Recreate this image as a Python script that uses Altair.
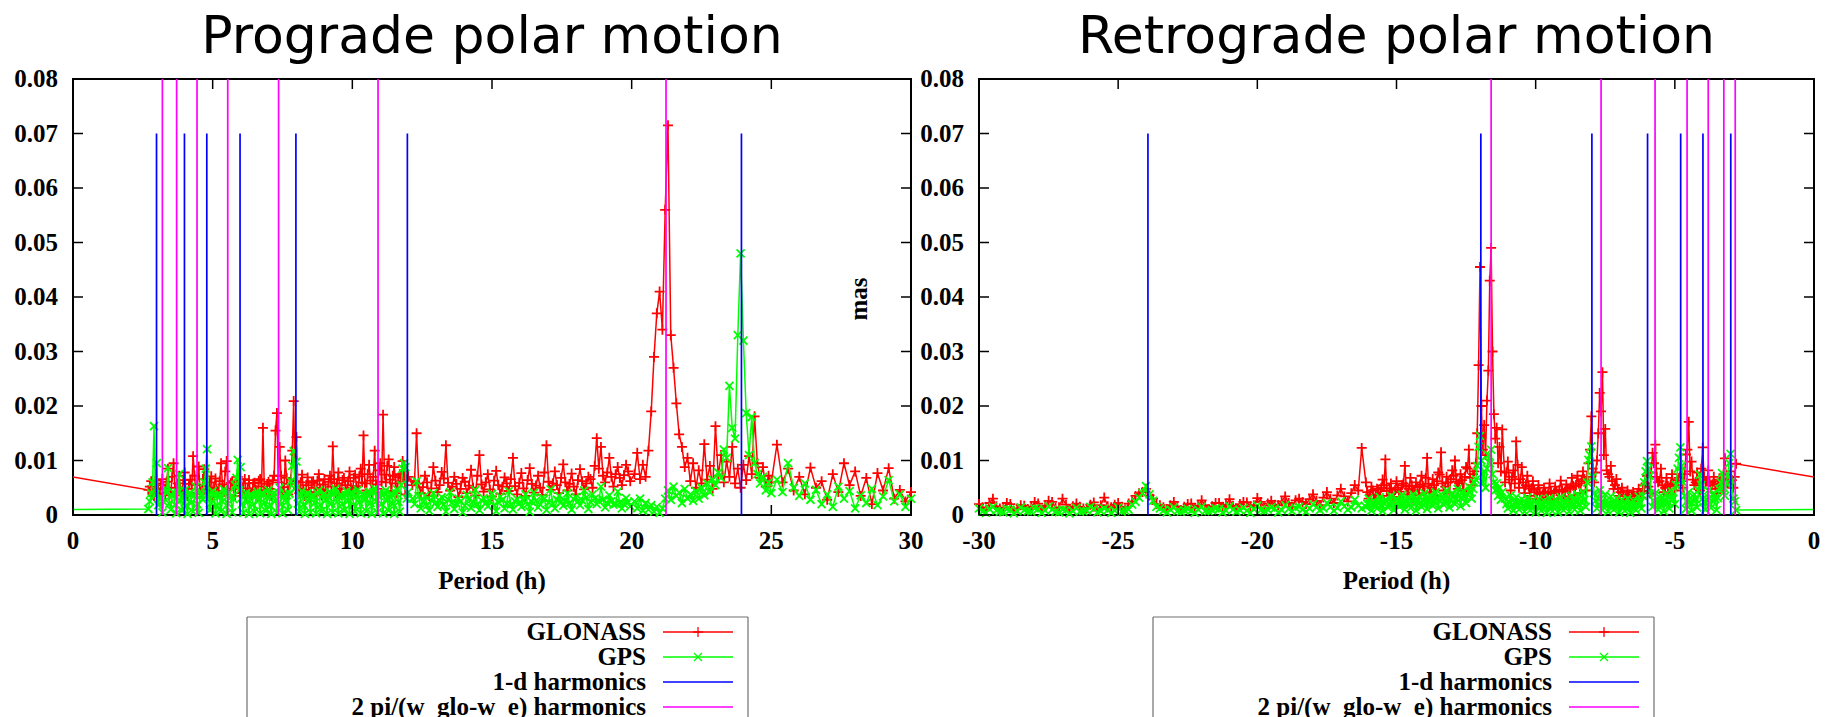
import altair as alt
import pandas as pd

# ---------------------------------------------------------------------------
# Amplitude spectra of polar motion (mas) versus period (h)
# ---------------------------------------------------------------------------

# prograde band (positive periods)
PRO_PERIOD = [
    2.7, 2.8, 2.9, 3.0, 3.1, 3.2, 3.3, 3.4, 3.5, 3.6,
    3.7, 3.8, 3.9, 4.0, 4.1, 4.2, 4.3, 4.4, 4.5, 4.6,
    4.7, 4.8, 4.9, 5.0, 5.1, 5.2, 5.3, 5.4, 5.5, 5.6,
    5.7, 5.8, 5.9, 6.0, 6.1, 6.2, 6.3, 6.4, 6.5, 6.6,
    6.7, 6.8, 6.9, 7.0, 7.1, 7.2, 7.3, 7.4, 7.5, 7.6,
    7.7, 7.8, 7.9, 8.0, 8.1, 8.2, 8.3, 8.4, 8.5, 8.6,
    8.7, 8.8, 8.9, 9.0, 9.1, 9.2, 9.3, 9.4, 9.5, 9.6,
    9.7, 9.8, 9.9, 10.0, 10.1, 10.2, 10.3, 10.4, 10.5, 10.6,
    10.7, 10.8, 10.9, 11.0, 11.1, 11.2, 11.3, 11.4, 11.5, 11.6,
    11.7, 11.8, 11.9, 12.0,
    12.15, 12.3, 12.45, 12.6, 12.75, 12.9, 13.05, 13.2, 13.35, 13.5,
    13.65, 13.8, 13.95, 14.1, 14.25, 14.4, 14.55, 14.7, 14.85, 15.0,
    15.15, 15.3, 15.45, 15.6, 15.75, 15.9, 16.05, 16.2, 16.35, 16.5,
    16.65, 16.8, 16.95, 17.1, 17.25, 17.4, 17.55, 17.7, 17.85, 18.0,
    18.15, 18.3, 18.45, 18.6, 18.75, 18.9, 19.05, 19.2, 19.35, 19.5,
    19.65, 19.8, 19.95,
    20.1, 20.2, 20.3, 20.4, 20.5, 20.6, 20.7, 20.8, 20.9, 21.0,
    21.1, 21.2, 21.3, 21.4, 21.5, 21.6, 21.7, 21.8, 21.9, 22.0,
    22.1, 22.2, 22.3, 22.4, 22.5, 22.6, 22.7, 22.8, 22.9, 23.0,
    23.1, 23.2, 23.3, 23.4, 23.5, 23.6, 23.7, 23.8, 23.9, 24.0,
    24.1, 24.2, 24.3, 24.4, 24.5, 24.6, 24.7, 24.8, 24.9, 25.0,
    25.2, 25.4, 25.6, 25.8, 26.0, 26.2, 26.4, 26.6, 26.8, 27.0,
    27.2, 27.4, 27.6, 27.8, 28.0, 28.2, 28.4, 28.6, 28.8, 29.0,
    29.2, 29.4, 29.6, 29.8, 30.0, 30.2,
]
PRO_GLONASS = [
    0.0046, 0.0062, 0.0035, 0.0058, 0.0040, 0.0066, 0.0038, 0.0085, 0.0042, 0.0095,
    0.0036, 0.0072, 0.0041, 0.0078, 0.0035, 0.0065, 0.0108, 0.0040, 0.0089, 0.0038,
    0.0084, 0.0045, 0.0060, 0.0033, 0.0067, 0.0040, 0.0095, 0.0042, 0.0099, 0.0037,
    0.0062, 0.0035, 0.0070, 0.0040, 0.0058, 0.0032, 0.0064, 0.0036, 0.0059, 0.0034,
    0.0066, 0.0160, 0.0038, 0.0061, 0.0035, 0.0072, 0.0187, 0.0125, 0.0042, 0.0100,
    0.0038, 0.0065, 0.0209, 0.0143, 0.0040, 0.0074, 0.0035, 0.0069, 0.0033, 0.0062,
    0.0038, 0.0075, 0.0036, 0.0066, 0.0034, 0.0072, 0.0126, 0.0040, 0.0078, 0.0037,
    0.0068, 0.0042, 0.0080, 0.0036, 0.0074, 0.0040, 0.0085, 0.0146, 0.0045, 0.0092,
    0.0041, 0.0118, 0.0048, 0.0095, 0.0184, 0.0060, 0.0102, 0.0044, 0.0088, 0.0040,
    0.0075, 0.0099, 0.0038, 0.0070,
    0.0055, 0.0150, 0.0040, 0.0072, 0.0035, 0.0088, 0.0042, 0.0079, 0.0128, 0.0045,
    0.0070, 0.0033, 0.0068, 0.0040, 0.0083, 0.0036, 0.0110, 0.0043, 0.0075, 0.0034,
    0.0081, 0.0039, 0.0069, 0.0044, 0.0105, 0.0038, 0.0077, 0.0035, 0.0086, 0.0041,
    0.0072, 0.0037, 0.0128, 0.0046, 0.0080, 0.0040, 0.0093, 0.0045, 0.0076, 0.0038,
    0.0084, 0.0047, 0.0070, 0.0050, 0.0141, 0.0125, 0.0060, 0.0105, 0.0052, 0.0088,
    0.0055, 0.0092, 0.0062,
    0.0075, 0.0114, 0.0066, 0.0092, 0.0070, 0.0118, 0.0190, 0.0290, 0.0370, 0.0410,
    0.0340, 0.0560, 0.0715, 0.0330, 0.0270, 0.0205, 0.0148, 0.0125, 0.0088, 0.0105,
    0.0062, 0.0095, 0.0050, 0.0082, 0.0058, 0.0130, 0.0065, 0.0090, 0.0048, 0.0163,
    0.0072, 0.0110, 0.0060, 0.0098, 0.0070, 0.0125, 0.0058, 0.0085, 0.0050, 0.0092,
    0.0064, 0.0108, 0.0075, 0.0181, 0.0095, 0.0068, 0.0088, 0.0052, 0.0072, 0.0060,
    0.0129, 0.0060, 0.0085, 0.0045, 0.0070, 0.0038, 0.0087, 0.0050, 0.0062, 0.0028,
    0.0075, 0.0042, 0.0095, 0.0055, 0.0080, 0.0035, 0.0068, 0.0020, 0.0077, 0.0045,
    0.0086, 0.0030, 0.0046, 0.0025, 0.0042, 0.0040,
]
PRO_GPS = [
    0.0011, 0.0040, 0.0163, 0.0095, 0.0030, 0.0005, 0.0048, 0.0086, 0.0010, 0.0042,
    0.0003, 0.0075, 0.0008, 0.0045, 0.0002, 0.0040, 0.0006, 0.0052, 0.0004, 0.0038,
    0.0060, 0.0121, 0.0009, 0.0044, 0.0003, 0.0039, 0.0007, 0.0047, 0.0002, 0.0041,
    0.0005, 0.0055, 0.0101, 0.0088, 0.0004, 0.0040, 0.0002, 0.0037, 0.0006, 0.0043,
    0.0003, 0.0039, 0.0008, 0.0046, 0.0002, 0.0041, 0.0005, 0.0050, 0.0003, 0.0038,
    0.0009, 0.0062, 0.0117, 0.0098, 0.0006, 0.0044, 0.0002, 0.0040, 0.0005, 0.0036,
    0.0003, 0.0045, 0.0007, 0.0039, 0.0002, 0.0042, 0.0005, 0.0048, 0.0003, 0.0037,
    0.0008, 0.0044, 0.0002, 0.0040, 0.0006, 0.0046, 0.0003, 0.0038, 0.0007, 0.0043,
    0.0002, 0.0049, 0.0005, 0.0041, 0.0003, 0.0045, 0.0008, 0.0039, 0.0002, 0.0047,
    0.0006, 0.0085, 0.0088, 0.0042,
    0.0030, 0.0062, 0.0012, 0.0035, 0.0008, 0.0040, 0.0015, 0.0033, 0.0006, 0.0042,
    0.0011, 0.0030, 0.0005, 0.0037, 0.0013, 0.0046, 0.0009, 0.0031, 0.0016, 0.0039,
    0.0007, 0.0034, 0.0012, 0.0044, 0.0010, 0.0029, 0.0015, 0.0038, 0.0006, 0.0041,
    0.0014, 0.0032, 0.0009, 0.0047, 0.0012, 0.0035, 0.0017, 0.0040, 0.0010, 0.0033,
    0.0018, 0.0045, 0.0011, 0.0038, 0.0020, 0.0052, 0.0014, 0.0036, 0.0019, 0.0043,
    0.0012, 0.0031, 0.0016,
    0.0025, 0.0012, 0.0030, 0.0008, 0.0022, 0.0010, 0.0018, 0.0006, 0.0015, 0.0004,
    0.0012, 0.0030, 0.0045, 0.0028, 0.0052, 0.0035, 0.0041, 0.0022, 0.0048, 0.0030,
    0.0038, 0.0026, 0.0044, 0.0030, 0.0050, 0.0036, 0.0058, 0.0042, 0.0065, 0.0055,
    0.0078, 0.0068, 0.0120, 0.0105, 0.0237, 0.0160, 0.0140, 0.0330, 0.0480, 0.0320,
    0.0187, 0.0110, 0.0180, 0.0095, 0.0075, 0.0058, 0.0070, 0.0045, 0.0060, 0.0040,
    0.0065, 0.0042, 0.0095, 0.0050, 0.0035, 0.0058, 0.0028, 0.0046, 0.0020, 0.0038,
    0.0015, 0.0052, 0.0030, 0.0044, 0.0012, 0.0036, 0.0022, 0.0048, 0.0018, 0.0034,
    0.0064, 0.0025, 0.0038, 0.0015, 0.0030, 0.0022,
]

# prograde, in-between frequency bins of the densely sampled short periods
PRO_FINE_PERIOD = [
    2.75, 2.85, 2.95, 3.05, 3.15, 3.25, 3.35, 3.45, 3.55, 3.65,
    3.75, 3.85, 3.95, 4.05, 4.15, 4.25, 4.35, 4.45, 4.55, 4.65,
    4.75, 4.85, 4.95, 5.05, 5.15, 5.25, 5.35, 5.45, 5.55, 5.65,
    5.75, 5.85, 5.95, 6.05, 6.15, 6.25, 6.35, 6.45, 6.55, 6.65,
    6.75, 6.85, 6.95, 7.05, 7.15, 7.25, 7.35, 7.45, 7.55, 7.65,
    7.75, 7.85, 7.95, 8.05, 8.15, 8.25, 8.35, 8.45, 8.55, 8.65,
    8.75, 8.85, 8.95, 9.05, 9.15, 9.25, 9.35, 9.45, 9.55, 9.65,
    9.75, 9.85, 9.95, 10.05, 10.15, 10.25, 10.35, 10.45, 10.55, 10.65,
    10.75, 10.85, 10.95, 11.05, 11.15, 11.25, 11.35, 11.45, 11.55, 11.65,
    11.75, 11.85, 11.95,
    12.225, 12.375, 12.525, 12.675, 12.825, 12.975, 13.125, 13.275, 13.425, 13.575,
    13.725, 13.875, 14.025, 14.175, 14.325, 14.475, 14.625, 14.775, 14.925, 15.075,
    15.225, 15.375, 15.525, 15.675, 15.825, 15.975, 16.125, 16.275, 16.425, 16.575,
    16.725, 16.875, 17.025, 17.175, 17.325, 17.475, 17.625, 17.775, 17.925, 18.075,
    18.225, 18.375, 18.525, 18.675, 18.825, 18.975, 19.125, 19.275, 19.425, 19.575,
    19.725, 19.875,
]
PRO_FINE_GLONASS = [
    0.0052, 0.0041, 0.0063, 0.0047, 0.0055, 0.0049, 0.0061, 0.0036, 0.0070, 0.0050,
    0.0058, 0.0045, 0.0064, 0.0039, 0.0057, 0.0048, 0.0072, 0.0055, 0.0046, 0.0066,
    0.0053, 0.0040, 0.0071, 0.0050, 0.0044, 0.0062, 0.0056, 0.0080, 0.0047, 0.0059,
    0.0048, 0.0061, 0.0054, 0.0043, 0.0066, 0.0049, 0.0041, 0.0058, 0.0046, 0.0063,
    0.0052, 0.0045, 0.0057, 0.0048, 0.0064, 0.0155, 0.0060, 0.0072, 0.0051, 0.0068,
    0.0057, 0.0118, 0.0062, 0.0049, 0.0060, 0.0046, 0.0055, 0.0042, 0.0059, 0.0050,
    0.0063, 0.0047, 0.0056, 0.0044, 0.0061, 0.0052, 0.0066, 0.0058, 0.0048, 0.0064,
    0.0055, 0.0062, 0.0050, 0.0068, 0.0053, 0.0071, 0.0060, 0.0058, 0.0075, 0.0063,
    0.0070, 0.0056, 0.0082, 0.0061, 0.0074, 0.0090, 0.0065, 0.0072, 0.0058, 0.0069,
    0.0062, 0.0080, 0.0066,
    0.0062, 0.0058, 0.0051, 0.0060, 0.0049, 0.0063, 0.0055, 0.0067, 0.0059, 0.0052,
    0.0057, 0.0048, 0.0061, 0.0054, 0.0050, 0.0072, 0.0056, 0.0060, 0.0047, 0.0063,
    0.0055, 0.0052, 0.0058, 0.0066, 0.0053, 0.0059, 0.0049, 0.0064, 0.0057, 0.0054,
    0.0050, 0.0078, 0.0061, 0.0058, 0.0055, 0.0068, 0.0060, 0.0057, 0.0052, 0.0064,
    0.0062, 0.0058, 0.0066, 0.0090, 0.0085, 0.0072, 0.0078, 0.0070, 0.0075, 0.0068,
    0.0073, 0.0080,
]
PRO_FINE_GPS = [
    0.0025, 0.0060, 0.0038, 0.0018, 0.0033, 0.0024, 0.0040, 0.0021, 0.0035, 0.0019,
    0.0041, 0.0026, 0.0034, 0.0017, 0.0039, 0.0023, 0.0036, 0.0020, 0.0042, 0.0028,
    0.0085, 0.0032, 0.0022, 0.0037, 0.0018, 0.0034, 0.0025, 0.0040, 0.0021, 0.0033,
    0.0029, 0.0068, 0.0045, 0.0020, 0.0036, 0.0024, 0.0038, 0.0019, 0.0035, 0.0027,
    0.0040, 0.0022, 0.0034, 0.0018, 0.0037, 0.0026, 0.0041, 0.0020, 0.0033, 0.0024,
    0.0039, 0.0090, 0.0048, 0.0021, 0.0035, 0.0019, 0.0038, 0.0025, 0.0034, 0.0022,
    0.0040, 0.0018, 0.0036, 0.0027, 0.0033, 0.0021, 0.0039, 0.0024, 0.0035, 0.0020,
    0.0037, 0.0026, 0.0041, 0.0019, 0.0034, 0.0023, 0.0038, 0.0028, 0.0036, 0.0022,
    0.0042, 0.0025, 0.0035, 0.0020, 0.0039, 0.0027, 0.0033, 0.0021, 0.0040, 0.0024,
    0.0055, 0.0095, 0.0030,
    0.0020, 0.0035, 0.0024, 0.0018, 0.0027, 0.0022, 0.0026, 0.0019, 0.0028, 0.0023,
    0.0021, 0.0025, 0.0017, 0.0029, 0.0024, 0.0020, 0.0027, 0.0022, 0.0026, 0.0018,
    0.0023, 0.0028, 0.0021, 0.0019, 0.0025, 0.0022, 0.0027, 0.0020, 0.0024, 0.0026,
    0.0019, 0.0030, 0.0023, 0.0021, 0.0028, 0.0024, 0.0026, 0.0022, 0.0029, 0.0025,
    0.0027, 0.0032, 0.0024, 0.0030, 0.0026, 0.0028, 0.0022, 0.0025, 0.0021, 0.0023,
    0.0020, 0.0024,
]

# retrograde band (negative periods)
RETRO_PERIOD = [
    -30.25, -30.0, -29.75, -29.5, -29.25, -29.0, -28.75, -28.5, -28.25, -28.0,
    -27.75, -27.5, -27.25, -27.0, -26.75, -26.5, -26.25, -26.0, -25.75, -25.5,
    -25.25, -25.0, -24.75, -24.5, -24.25, -24.0, -23.75, -23.5, -23.25, -23.0,
    -22.75, -22.5, -22.25, -22.0, -21.75, -21.5, -21.25, -21.0, -20.75, -20.5,
    -20.25, -20.0, -19.75, -19.5, -19.25, -19.0, -18.75, -18.5, -18.25, -18.0,
    -17.75, -17.5, -17.25, -17.0, -16.75, -16.5, -16.25,
    -16.1, -16.0, -15.9, -15.8, -15.7, -15.6, -15.5, -15.4, -15.3, -15.2,
    -15.1, -15.0, -14.9, -14.8, -14.7, -14.6, -14.5, -14.4, -14.3, -14.2,
    -14.1, -14.0, -13.9, -13.8, -13.7, -13.6, -13.5, -13.4, -13.3, -13.2,
    -13.1, -13.0, -12.9, -12.8, -12.7, -12.6, -12.5, -12.4, -12.3, -12.2,
    -12.15, -12.1, -12.05, -12.0, -11.95, -11.9, -11.85, -11.8, -11.75, -11.7,
    -11.65, -11.6, -11.55, -11.5, -11.45, -11.4, -11.35, -11.3, -11.25, -11.2,
    -11.1, -11.0, -10.9, -10.8, -10.7, -10.6, -10.5, -10.4, -10.3, -10.2,
    -10.1, -10.0, -9.9, -9.8, -9.7, -9.6, -9.5, -9.4, -9.3, -9.2,
    -9.1, -9.0, -8.9, -8.8, -8.7, -8.6, -8.5, -8.4, -8.3, -8.2,
    -8.1, -8.0, -7.9, -7.8, -7.7, -7.6, -7.5, -7.4, -7.3, -7.2,
    -7.1, -7.0, -6.9, -6.8, -6.7, -6.6, -6.5, -6.4, -6.3, -6.2,
    -6.1, -6.0, -5.9, -5.8, -5.7, -5.6, -5.5, -5.4, -5.3, -5.2,
    -5.1, -5.0, -4.9, -4.8, -4.7, -4.6, -4.5, -4.4, -4.3, -4.2,
    -4.1, -4.0, -3.9, -3.8, -3.7, -3.6, -3.5, -3.4, -3.3, -3.2,
    -3.1, -3.0, -2.9, -2.8,
]
RETRO_GLONASS = [
    0.0015, 0.0020, 0.0010, 0.0030, 0.0012, 0.0022, 0.0008, 0.0018, 0.0011, 0.0024,
    0.0009, 0.0026, 0.0013, 0.0030, 0.0010, 0.0021, 0.0012, 0.0019, 0.0008, 0.0032,
    0.0014, 0.0022, 0.0010, 0.0025, 0.0040, 0.0048, 0.0030, 0.0018, 0.0011, 0.0024,
    0.0009, 0.0020, 0.0013, 0.0027, 0.0010, 0.0022, 0.0015, 0.0029, 0.0011, 0.0024,
    0.0016, 0.0031, 0.0013, 0.0026, 0.0018, 0.0034, 0.0015, 0.0030, 0.0020, 0.0038,
    0.0018, 0.0042, 0.0022, 0.0048, 0.0025, 0.0055, 0.0123,
    0.0060, 0.0030, 0.0052, 0.0025, 0.0048, 0.0032, 0.0065, 0.0102, 0.0035, 0.0058,
    0.0028, 0.0062, 0.0033, 0.0055, 0.0090, 0.0038, 0.0068, 0.0030, 0.0060, 0.0036,
    0.0072, 0.0040, 0.0105, 0.0042, 0.0066, 0.0035, 0.0078, 0.0115, 0.0045, 0.0070,
    0.0040, 0.0082, 0.0100, 0.0048, 0.0075, 0.0044, 0.0088, 0.0120, 0.0055, 0.0080,
    0.0095, 0.0150, 0.0275, 0.0455, 0.0200, 0.0120, 0.0165, 0.0110, 0.0210, 0.0265,
    0.0430, 0.0490, 0.0300, 0.0185, 0.0140, 0.0160, 0.0095, 0.0125, 0.0080, 0.0157,
    0.0060, 0.0098, 0.0045, 0.0082, 0.0135, 0.0050, 0.0088, 0.0040, 0.0072, 0.0035,
    0.0062, 0.0030, 0.0055, 0.0028, 0.0050, 0.0032, 0.0058, 0.0027, 0.0052, 0.0030,
    0.0063, 0.0034, 0.0056, 0.0029, 0.0068, 0.0036, 0.0072, 0.0040, 0.0080, 0.0045,
    0.0095, 0.0181, 0.0060, 0.0100, 0.0224, 0.0262, 0.0158, 0.0075, 0.0090, 0.0048,
    0.0066, 0.0035, 0.0050, 0.0028, 0.0045, 0.0030, 0.0042, 0.0026, 0.0048, 0.0032,
    0.0055, 0.0072, 0.0040, 0.0114, 0.0129, 0.0060, 0.0085, 0.0042, 0.0068, 0.0038,
    0.0075, 0.0045, 0.0064, 0.0085, 0.0050, 0.0111, 0.0171, 0.0098, 0.0055, 0.0078,
    0.0045, 0.0124, 0.0060, 0.0082, 0.0048, 0.0070, 0.0040, 0.0065, 0.0052, 0.0104,
    0.0058, 0.0080, 0.0050, 0.0094,
]
RETRO_GPS = [
    0.0008, 0.0012, 0.0004, 0.0015, 0.0006, 0.0011, 0.0003, 0.0014, 0.0007, 0.0012,
    0.0004, 0.0016, 0.0006, 0.0010, 0.0003, 0.0013, 0.0007, 0.0015, 0.0005, 0.0012,
    0.0004, 0.0014, 0.0008, 0.0019, 0.0032, 0.0053, 0.0026, 0.0012, 0.0005, 0.0014,
    0.0006, 0.0011, 0.0004, 0.0015, 0.0007, 0.0012, 0.0005, 0.0016, 0.0006, 0.0013,
    0.0004, 0.0017, 0.0008, 0.0014, 0.0005, 0.0018, 0.0007, 0.0015, 0.0006, 0.0020,
    0.0009, 0.0022, 0.0008, 0.0025, 0.0010, 0.0028, 0.0012,
    0.0015, 0.0030, 0.0008, 0.0026, 0.0012, 0.0033, 0.0007, 0.0028, 0.0014, 0.0035,
    0.0009, 0.0030, 0.0016, 0.0037, 0.0010, 0.0032, 0.0013, 0.0038, 0.0008, 0.0034,
    0.0015, 0.0040, 0.0011, 0.0036, 0.0017, 0.0042, 0.0012, 0.0038, 0.0019, 0.0045,
    0.0014, 0.0040, 0.0020, 0.0048, 0.0016, 0.0044, 0.0022, 0.0052, 0.0030, 0.0060,
    0.0065, 0.0090, 0.0125, 0.0145, 0.0100, 0.0060, 0.0080, 0.0050, 0.0085, 0.0110,
    0.0095, 0.0120, 0.0075, 0.0060, 0.0045, 0.0058, 0.0035, 0.0050, 0.0028, 0.0042,
    0.0030, 0.0012, 0.0036, 0.0008, 0.0033, 0.0010, 0.0029, 0.0006, 0.0032, 0.0009,
    0.0027, 0.0005, 0.0030, 0.0008, 0.0026, 0.0004, 0.0031, 0.0007, 0.0028, 0.0005,
    0.0033, 0.0009, 0.0030, 0.0006, 0.0035, 0.0010, 0.0038, 0.0008, 0.0042, 0.0015,
    0.0101, 0.0126, 0.0040, 0.0012, 0.0045, 0.0009, 0.0038, 0.0006, 0.0034, 0.0010,
    0.0031, 0.0005, 0.0028, 0.0008, 0.0030, 0.0004, 0.0027, 0.0009, 0.0034, 0.0012,
    0.0060, 0.0099, 0.0072, 0.0015, 0.0040, 0.0010, 0.0036, 0.0007, 0.0039, 0.0012,
    0.0043, 0.0020, 0.0085, 0.0124, 0.0060, 0.0011, 0.0042, 0.0008, 0.0038, 0.0014,
    0.0074, 0.0030, 0.0010, 0.0045, 0.0013, 0.0040, 0.0009, 0.0048, 0.0077, 0.0035,
    0.0074, 0.0112, 0.0030, 0.0009,
]

# retrograde, in-between frequency bins
RETRO_FINE_PERIOD = [
    -30.125, -29.875, -29.625, -29.375, -29.125, -28.875, -28.625, -28.375, -28.125, -27.875,
    -27.625, -27.375, -27.125, -26.875, -26.625, -26.375, -26.125, -25.875, -25.625, -25.375,
    -25.125, -24.875, -24.625, -24.375, -24.125, -23.875, -23.625, -23.375, -23.125, -22.875,
    -22.625, -22.375, -22.125, -21.875, -21.625, -21.375, -21.125, -20.875, -20.625, -20.375,
    -20.125, -19.875, -19.625, -19.375, -19.125, -18.875, -18.625, -18.375, -18.125, -17.875,
    -17.625, -17.375, -17.125, -16.875, -16.625, -16.375,
    -16.05, -15.95, -15.85, -15.75, -15.65, -15.55, -15.45, -15.35, -15.25, -15.15,
    -15.05, -14.95, -14.85, -14.75, -14.65, -14.55, -14.45, -14.35, -14.25, -14.15,
    -14.05, -13.95, -13.85, -13.75, -13.65, -13.55, -13.45, -13.35, -13.25, -13.15,
    -13.05, -12.95, -12.85, -12.75, -12.65, -12.55, -12.45, -12.35, -12.25,
    -11.05, -10.95, -10.85, -10.75, -10.65, -10.55, -10.45, -10.35, -10.25, -10.15,
    -10.05, -9.95, -9.85, -9.75, -9.65, -9.55, -9.45, -9.35, -9.25, -9.15,
    -9.05, -8.95, -8.85, -8.75, -8.65, -8.55, -8.45, -8.35, -8.25, -8.15,
    -8.05, -7.95, -7.85, -7.75, -7.65, -7.55, -7.45, -7.35, -7.25, -7.15,
    -7.05, -6.95, -6.85, -6.75, -6.65, -6.55, -6.45, -6.35, -6.25, -6.15,
    -6.05, -5.95, -5.85, -5.75, -5.65, -5.55, -5.45, -5.35, -5.25, -5.15,
    -5.05, -4.95, -4.85, -4.75, -4.65, -4.55, -4.45, -4.35, -4.25, -4.15,
    -4.05, -3.95, -3.85, -3.75, -3.65, -3.55, -3.45, -3.35, -3.25, -3.15,
    -3.05, -2.95, -2.85,
]
RETRO_FINE_GLONASS = [
    0.0018, 0.0014, 0.0022, 0.0016, 0.0013, 0.0020, 0.0012, 0.0017, 0.0015, 0.0021,
    0.0017, 0.0024, 0.0014, 0.0019, 0.0016, 0.0015, 0.0013, 0.0023, 0.0018, 0.0016,
    0.0019, 0.0015, 0.0021, 0.0035, 0.0042, 0.0036, 0.0020, 0.0014, 0.0018, 0.0016,
    0.0015, 0.0021, 0.0017, 0.0018, 0.0016, 0.0022, 0.0019, 0.0017, 0.0020, 0.0023,
    0.0018, 0.0024, 0.0021, 0.0019, 0.0025, 0.0022, 0.0027, 0.0024, 0.0029, 0.0026,
    0.0032, 0.0030, 0.0036, 0.0034, 0.0040, 0.0045,
    0.0042, 0.0038, 0.0045, 0.0036, 0.0047, 0.0050, 0.0055, 0.0044, 0.0049, 0.0041,
    0.0046, 0.0050, 0.0043, 0.0058, 0.0052, 0.0048, 0.0054, 0.0045, 0.0051, 0.0056,
    0.0053, 0.0068, 0.0057, 0.0050, 0.0055, 0.0062, 0.0074, 0.0058, 0.0052, 0.0060,
    0.0066, 0.0072, 0.0061, 0.0058, 0.0064, 0.0070, 0.0085, 0.0068, 0.0075,
    0.0078, 0.0065, 0.0070, 0.0058, 0.0092, 0.0066, 0.0060, 0.0055, 0.0052, 0.0049,
    0.0046, 0.0042, 0.0040, 0.0038, 0.0041, 0.0039, 0.0043, 0.0040, 0.0044, 0.0046,
    0.0045, 0.0043, 0.0048, 0.0050, 0.0053, 0.0055, 0.0058, 0.0062, 0.0066, 0.0070,
    0.0120, 0.0085, 0.0078, 0.0150, 0.0190, 0.0110, 0.0082, 0.0070, 0.0062, 0.0055,
    0.0048, 0.0042, 0.0038, 0.0036, 0.0037, 0.0035, 0.0036, 0.0038, 0.0040, 0.0044,
    0.0058, 0.0052, 0.0078, 0.0095, 0.0070, 0.0062, 0.0055, 0.0050, 0.0053, 0.0056,
    0.0058, 0.0055, 0.0068, 0.0062, 0.0075, 0.0120, 0.0080, 0.0065, 0.0060, 0.0058,
    0.0085, 0.0070, 0.0062, 0.0060, 0.0056, 0.0054, 0.0058, 0.0062, 0.0075, 0.0066,
    0.0068, 0.0064, 0.0070,
]
RETRO_FINE_GPS = [
    0.0009, 0.0006, 0.0011, 0.0008, 0.0005, 0.0010, 0.0007, 0.0009, 0.0006, 0.0011,
    0.0008, 0.0010, 0.0005, 0.0009, 0.0007, 0.0006, 0.0008, 0.0011, 0.0007, 0.0009,
    0.0008, 0.0006, 0.0010, 0.0024, 0.0040, 0.0038, 0.0015, 0.0008, 0.0010, 0.0007,
    0.0009, 0.0008, 0.0010, 0.0007, 0.0009, 0.0011, 0.0008, 0.0010, 0.0009, 0.0008,
    0.0011, 0.0009, 0.0010, 0.0012, 0.0009, 0.0011, 0.0013, 0.0010, 0.0012, 0.0014,
    0.0012, 0.0015, 0.0013, 0.0016, 0.0014, 0.0017,
    0.0021, 0.0018, 0.0020, 0.0017, 0.0022, 0.0019, 0.0021, 0.0024, 0.0020, 0.0023,
    0.0019, 0.0025, 0.0022, 0.0020, 0.0024, 0.0021, 0.0026, 0.0022, 0.0025, 0.0023,
    0.0027, 0.0024, 0.0026, 0.0028, 0.0025, 0.0029, 0.0027, 0.0030, 0.0026, 0.0031,
    0.0028, 0.0033, 0.0030, 0.0034, 0.0032, 0.0036, 0.0038, 0.0042, 0.0048,
    0.0020, 0.0024, 0.0018, 0.0022, 0.0019, 0.0021, 0.0017, 0.0020, 0.0018, 0.0019,
    0.0016, 0.0019, 0.0017, 0.0018, 0.0015, 0.0019, 0.0017, 0.0018, 0.0016, 0.0020,
    0.0018, 0.0021, 0.0019, 0.0022, 0.0020, 0.0023, 0.0021, 0.0025, 0.0028, 0.0060,
    0.0110, 0.0070, 0.0026, 0.0030, 0.0024, 0.0022, 0.0020, 0.0021, 0.0019, 0.0018,
    0.0017, 0.0019, 0.0016, 0.0018, 0.0017, 0.0016, 0.0018, 0.0020, 0.0022, 0.0035,
    0.0080, 0.0085, 0.0040, 0.0025, 0.0022, 0.0021, 0.0023, 0.0025, 0.0024, 0.0028,
    0.0030, 0.0055, 0.0105, 0.0090, 0.0035, 0.0026, 0.0024, 0.0027, 0.0029, 0.0045,
    0.0055, 0.0024, 0.0028, 0.0030, 0.0026, 0.0029, 0.0031, 0.0060, 0.0050, 0.0058,
    0.0095, 0.0062, 0.0025,
]

# reference periods (h) and the heights of their marker lines (mas)
ONE_DAY_HARMONICS = [-23.93, -11.97, -7.98, -5.98, -4.79, -3.99, -2.99,
                     2.99, 3.99, 4.79, 5.98, 7.98, 11.97, 23.93]
ONE_DAY_TOP = 0.07
GLO_HARMONICS = [-11.6, -7.65, -5.71, -4.56, -3.8, -3.24, -2.83,
                 3.2, 3.71, 4.44, 5.54, 7.36, 10.92, 21.23]
GLO_TOP = 0.08

PRO_TICKS = [0, 5, 10, 15, 20, 25, 30]
RETRO_TICKS = [-30, -25, -20, -15, -10, -5, 0]
Y_TICKS = [0, 0.01, 0.02, 0.03, 0.04, 0.05, 0.06, 0.07, 0.08]
Y_TICK_LABELS = ["0", "0.01", "0.02", "0.03", "0.04", "0.05", "0.06", "0.07", "0.08"]

LEGEND_LABELS = ["GLONASS", "GPS", "1-d harmonics", "2 pi/(w_glo-w_e) harmonics"]

RED, GREEN, BLUE, MAGENTA = "#ff0000", "#00ff00", "#0000ff", "#ff00ff"
LEGEND_COLORS = [RED, GREEN, BLUE, MAGENTA]
PLUS = "M-1,0L1,0M0,-1L0,1"
CROSS = "M-1,-1L1,1M-1,1L1,-1"
SERIF = "Liberation Serif"

PLOT_H = 436
LINE_W = 1.5
MARK_W = 1.8


def spectrum(*pairs):
    parts = [pd.DataFrame(list(zip(p, v)), columns=["period", "value"]) for p, v in pairs]
    return pd.concat(parts, ignore_index=True).sort_values("period").reset_index(drop=True)


glonass = spectrum((RETRO_PERIOD, RETRO_GLONASS), (RETRO_FINE_PERIOD, RETRO_FINE_GLONASS),
                   (PRO_PERIOD, PRO_GLONASS), (PRO_FINE_PERIOD, PRO_FINE_GLONASS))
gps = spectrum((RETRO_PERIOD, RETRO_GPS), (RETRO_FINE_PERIOD, RETRO_FINE_GPS),
               (PRO_PERIOD, PRO_GPS), (PRO_FINE_PERIOD, PRO_FINE_GPS))
one_day = pd.DataFrame({"period": ONE_DAY_HARMONICS, "base": 0.0, "top": ONE_DAY_TOP})
glo_harm = pd.DataFrame({"period": GLO_HARMONICS, "base": 0.0, "top": GLO_TOP})
y_ticks = pd.DataFrame({"t": Y_TICKS, "label": Y_TICK_LABELS})


def bold_text(**kw):
    return dict(font=SERIF, fontWeight="bold", fontSize=25, color="black", **kw)


def panel(lo, hi, ticks, width, title, y_title):
    xs = alt.Scale(domain=[lo, hi], nice=False, zero=False)
    ys = alt.Scale(domain=[0, 0.08], nice=False)
    in_range = f"datum.period >= {lo} && datum.period <= {hi}"

    def xy():
        return dict(
            x=alt.X("period:Q", scale=xs, axis=None),
            y=alt.Y("value:Q", scale=ys, axis=None),
        )

    layers = []
    # GLONASS: red line with "+" markers
    layers.append(alt.Chart(glonass).mark_line(color=RED, strokeWidth=LINE_W, clip=True)
                  .encode(**xy()))
    layers.append(alt.Chart(glonass).transform_filter(in_range)
                  .mark_point(shape=PLUS, filled=False, color=RED, size=100,
                              strokeWidth=MARK_W, opacity=1)
                  .encode(**xy()))
    # GPS: green line with "x" markers
    layers.append(alt.Chart(gps).mark_line(color=GREEN, strokeWidth=LINE_W, clip=True)
                  .encode(**xy()))
    layers.append(alt.Chart(gps).transform_filter(in_range)
                  .mark_point(shape=CROSS, filled=False, color=GREEN, size=64,
                              strokeWidth=MARK_W, opacity=1)
                  .encode(**xy()))
    # harmonic marker lines
    for df, color in ((one_day, BLUE), (glo_harm, MAGENTA)):
        layers.append(alt.Chart(df).transform_filter(in_range)
                      .mark_rule(color=color, strokeWidth=1.7, clip=True)
                      .encode(x=alt.X("period:Q", scale=xs, axis=None),
                              y=alt.Y("base:Q", scale=ys, axis=None),
                              y2="top:Q"))

    # inward tick marks on all four sides
    x_ticks = pd.DataFrame({"t": ticks, "label": [str(t) for t in ticks]})
    for y0, y1 in ((PLOT_H, PLOT_H - 10), (0, 10)):
        layers.append(alt.Chart(x_ticks).mark_rule(color="black", strokeWidth=1.5)
                      .encode(x=alt.X("t:Q", scale=xs, axis=None),
                              y=alt.value(y0), y2=alt.value(y1)))
    for x0, x1 in ((0, 10), (width - 10, width)):
        layers.append(alt.Chart(y_ticks).mark_rule(color="black", strokeWidth=1.5)
                      .encode(y=alt.Y("t:Q", scale=ys, axis=None),
                              x=alt.value(x0), x2=alt.value(x1)))

    # tick labels and axis titles
    layers.append(alt.Chart(x_ticks)
                  .mark_text(**bold_text(align="center", baseline="middle"))
                  .encode(x=alt.X("t:Q", scale=xs, axis=None),
                          y=alt.value(PLOT_H + 26), text="label:N"))
    layers.append(alt.Chart(y_ticks)
                  .mark_text(**bold_text(align="right", baseline="middle"))
                  .encode(y=alt.Y("t:Q", scale=ys, axis=None),
                          x=alt.value(-15), text="label:N"))
    one = pd.DataFrame({"k": [0]})
    layers.append(alt.Chart(pd.DataFrame({"label": ["Period (h)"]}))
                  .mark_text(**bold_text(align="center", baseline="middle"))
                  .encode(x=alt.value(width / 2), y=alt.value(PLOT_H + 66),
                          text="label:N"))
    if y_title:
        layers.append(alt.Chart(pd.DataFrame({"label": [y_title]}))
                      .mark_text(**bold_text(align="center", baseline="middle",
                                             angle=270))
                      .encode(x=alt.value(-120), y=alt.value(220), text="label:N"))
    layers.append(alt.Chart(pd.DataFrame({"label": [title]}))
                  .mark_text(font="DejaVu Sans", fontSize=52, color="black",
                             align="center", baseline="alphabetic")
                  .encode(x=alt.value(width / 2), y=alt.value(-26), text="label:N"))

    # key box below the axis title
    box_l, box_r, box_t, box_b = 174, 675, 538, 640
    gray = "#707070"
    layers.append(alt.Chart(one).mark_rule(color=gray, strokeWidth=1.2)
                  .encode(x=alt.value(box_l), x2=alt.value(box_r), y=alt.value(box_t)))
    for bx in (box_l, box_r):
        layers.append(alt.Chart(one).mark_rule(color=gray, strokeWidth=1.2)
                      .encode(x=alt.value(bx), y=alt.value(box_t), y2=alt.value(box_b)))
    shapes = [(PLUS, 100), (CROSS, 64), None, None]
    for i, (label, color) in enumerate(zip(LEGEND_LABELS, LEGEND_COLORS)):
        row_y = 553 + 25 * i
        layers.append(alt.Chart(pd.DataFrame({"label": [label]}))
                      .mark_text(**bold_text(align="right", baseline="middle"))
                      .encode(text="label:N", x=alt.value(573), y=alt.value(row_y)))
        layers.append(alt.Chart(one).mark_rule(color=color, strokeWidth=1.5)
                      .encode(x=alt.value(590), x2=alt.value(660), y=alt.value(row_y)))
        if shapes[i]:
            shp, sz = shapes[i]
            layers.append(alt.Chart(one)
                          .mark_point(shape=shp, filled=False, color=color, size=sz,
                                      strokeWidth=1.3, opacity=1)
                          .encode(x=alt.value(625), y=alt.value(row_y)))

    return alt.layer(*layers).properties(width=width, height=PLOT_H)


left = panel(0, 30, PRO_TICKS, 838, "Prograde polar motion", None)
right = panel(-30, 0, RETRO_TICKS, 835, "Retrograde polar motion", "mas")

chart = (
    alt.hconcat(left, right, spacing=68, bounds="flush")
    .properties(padding={"left": 13, "top": 10, "right": 0, "bottom": 0},
                background="white")
    .configure_view(stroke="black", strokeWidth=2)
)

chart.save("out.html", embed_options={"renderer": "svg", "actions": False})
